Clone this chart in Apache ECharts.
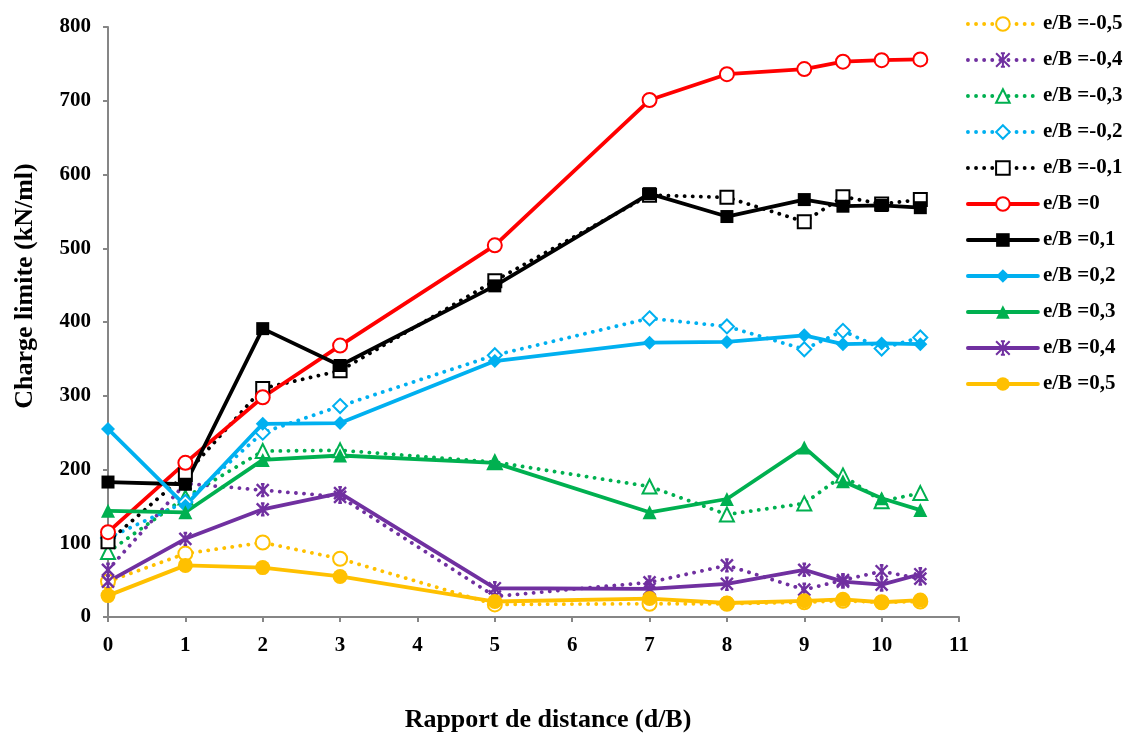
<!DOCTYPE html>
<html>
<head>
<meta charset="utf-8">
<script src="https://cdn.jsdelivr.net/npm/echarts@6/dist/echarts.min.js"></script>
<style>
  html, body { margin: 0; padding: 0; background: #fff; }
  #chart { width: 1129px; height: 738px; }
</style>
</head>
<body>
<div id="chart"></div>
<script>
// Distance ratio d/B (x positions)
const distance = [0, 1, 2, 3, 5, 7, 8, 9, 9.5, 10, 10.5];

// Ultimate load (kN/ml) for each eccentricity e/B
const eBm05 = [48, 86, 101, 79, 17, 18, 18, 20, 22, 20, 21];
const eBm04 = [64, 181, 172, 163, 28, 47, 70, 37, 50, 62, 52];
const eBm03 = [88, 162, 225, 226, 210, 177, 139, 154, 192, 157, 168];
const eBm02 = [107, 156, 250, 286, 355, 405, 394, 363, 388, 364, 379];
const eBm01 = [102, 193, 310, 334, 456, 572, 569, 536, 570, 560, 566];
const eB00  = [115, 209, 298, 368, 504, 701, 736, 743, 753, 755, 756];
const eBp01 = [183, 180, 391, 341, 449, 574, 543, 566, 557, 558, 555];
const eBp02 = [255, 151, 262, 263, 347, 372, 373, 382, 370, 371, 370];
const eBp03 = [144, 142, 213, 219, 209, 142, 160, 230, 184, 161, 145];
const eBp04 = [48, 106, 146, 168, 39, 38, 45, 64, 48, 44, 58];
const eBp05 = [29, 70, 67, 55, 21, 25, 19, 22, 24, 20, 23];

const seriesNames = [
  'e/B =-0,5', 'e/B =-0,4', 'e/B =-0,3', 'e/B =-0,2', 'e/B =-0,1',
  'e/B =0', 'e/B =0,1', 'e/B =0,2', 'e/B =0,3', 'e/B =0,4', 'e/B =0,5'
];
const seriesValues = [eBm05, eBm04, eBm03, eBm02, eBm01, eB00, eBp01, eBp02, eBp03, eBp04, eBp05];

const xTicks = [0, 1, 2, 3, 4, 5, 6, 7, 8, 9, 10, 11];
const yTicks = [0, 100, 200, 300, 400, 500, 600, 700, 800];

const FONT = "'Liberation Serif', 'Times New Roman', serif";
const ASTERISK = 'path://M0,0L10,10M10,0L0,10M5,0L5,10M3.5,0L6.5,0M3.5,10L6.5,10';
const LINE_W = 3.8;

// Style per series: colour, marker, dotted or solid
const styles = [
  { color: '#FFC000', symbol: 'emptyCircle',   size: 14, dotted: true },
  { color: '#7030A0', symbol: ASTERISK,        size: 12, dotted: true },
  { color: '#00B050', symbol: 'emptyTriangle', size: 14, dotted: true },
  { color: '#00B0F0', symbol: 'emptyDiamond',  size: 14, dotted: true },
  { color: '#000000', symbol: 'emptyRect',     size: 13, dotted: true },
  { color: '#FF0000', symbol: 'emptyCircle',   size: 14, dotted: false },
  { color: '#000000', symbol: 'rect',          size: 13, dotted: false },
  { color: '#00B0F0', symbol: 'diamond',       size: 14, dotted: false },
  { color: '#00B050', symbol: 'triangle',      size: 14, dotted: false },
  { color: '#7030A0', symbol: ASTERISK,        size: 12, dotted: false },
  { color: '#FFC000', symbol: 'circle',        size: 15, dotted: false }
];

const series = seriesNames.map(function (name, i) {
  const s = styles[i];
  const isEmpty = s.symbol.indexOf('empty') === 0 || s.symbol === ASTERISK;
  return {
    name: name,
    type: 'line',
    data: distance.map(function (d, k) { return [d, seriesValues[i][k]]; }),
    symbol: s.symbol,
    symbolSize: s.size,
    showAllSymbol: true,
    lineStyle: {
      color: s.color,
      width: LINE_W,
      type: s.dotted ? [0.1, 8] : 'solid',
      cap: 'round'
    },
    itemStyle: {
      color: s.color,
      borderColor: s.color,
      borderWidth: isEmpty ? (s.symbol === ASTERISK ? 2.4 : 2) : 0
    },
    emphasis: { disabled: true },
    animation: false
  };
});

const chart = echarts.init(document.getElementById('chart'), null, { renderer: 'canvas' });
chart.setOption({
  backgroundColor: '#ffffff',
  animation: false,
  grid: { left: 108, right: 170, top: 27, bottom: 115, containLabel: false },
  xAxis: {
    type: 'value',
    min: xTicks[0],
    max: xTicks[xTicks.length - 1],
    interval: 1,
    name: 'Rapport de distance (d/B)',
    nameLocation: 'middle',
    nameGap: 90,
    nameTextStyle: { fontFamily: FONT, fontWeight: 'bold', fontSize: 26, color: '#000', padding: [0, 0, 0, 29] },
    axisLine: { show: true, lineStyle: { color: '#868686', width: 2 } },
    axisTick: { show: true, length: 5, lineStyle: { color: '#868686', width: 2 } },
    axisLabel: { fontFamily: FONT, fontWeight: 'bold', fontSize: 21, color: '#000', margin: 18 },
    splitLine: { show: false }
  },
  yAxis: {
    type: 'value',
    min: yTicks[0],
    max: yTicks[yTicks.length - 1],
    interval: 100,
    name: 'Charge limite (kN/ml)',
    nameLocation: 'middle',
    nameGap: 70,
    nameTextStyle: { fontFamily: FONT, fontWeight: 'bold', fontSize: 26, color: '#000', padding: [0, 0, 0, 72] },
    axisLine: { show: true, lineStyle: { color: '#868686', width: 2 } },
    axisTick: { show: true, length: 5, lineStyle: { color: '#868686', width: 2 } },
    axisLabel: { fontFamily: FONT, fontWeight: 'bold', fontSize: 21, color: '#000', margin: 17 },
    splitLine: { show: false }
  },
  legend: {
    orient: 'vertical',
    left: 966,
    top: 13,
    padding: 0,
    itemWidth: 70,
    itemHeight: 17,
    itemGap: 14,
    data: seriesNames,
    lineStyle: { width: LINE_W },
    textStyle: { fontFamily: FONT, fontWeight: 'bold', fontSize: 21, color: '#000', lineHeight: 22 }
  },
  series: series
});
</script>
</body>
</html>
